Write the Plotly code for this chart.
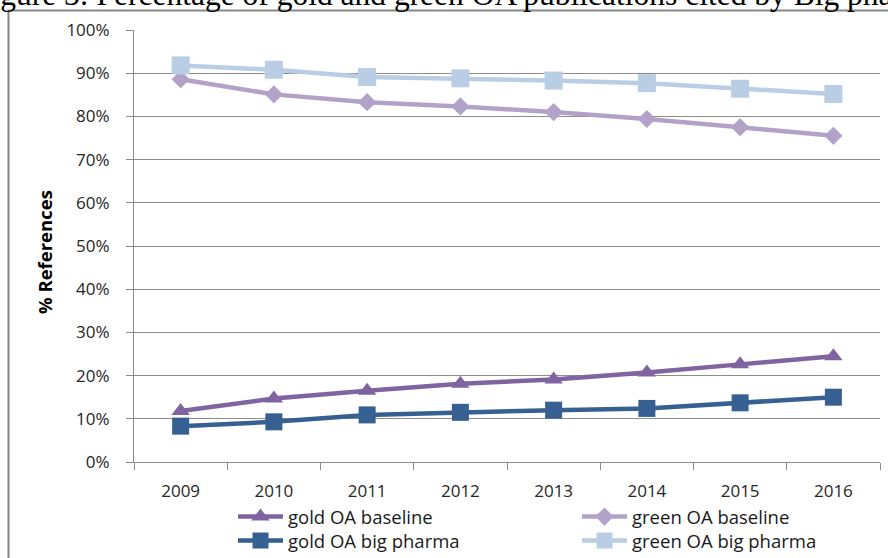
import plotly.graph_objects as go

# Citation shares by year (fraction of references)
years = ["2009", "2010", "2011", "2012", "2013", "2014", "2015", "2016"]
gold_oa_baseline = [0.118, 0.147, 0.165, 0.181, 0.191, 0.207, 0.226, 0.245]
green_oa_baseline = [0.886, 0.851, 0.833, 0.823, 0.810, 0.794, 0.775, 0.755]
gold_oa_big_pharma = [0.083, 0.093, 0.109, 0.115, 0.120, 0.124, 0.137, 0.150]
green_oa_big_pharma = [0.918, 0.908, 0.891, 0.888, 0.883, 0.877, 0.864, 0.852]
y_ticks = [0, 0.1, 0.2, 0.3, 0.4, 0.5, 0.6, 0.7, 0.8, 0.9, 1.0]
y_tick_labels = ["0%", "10%", "20%", "30%", "40%", "50%", "60%", "70%", "80%", "90%", "100%"]

W, H = 888, 558
L, R, T, B = 134, 8, 30, 96
PW, PH = W - L - R, H - T - B


def px_x(px):
    return (px - L) / PW


def px_y(py):
    return (H - B - py) / PH


# name, values, colour, marker symbol, marker size, legend slot
series = [
    ("gold OA baseline", gold_oa_baseline, "#8064A2", "triangle-up", 16, "legend"),
    ("green OA baseline", green_oa_baseline, "#B3A2C7", "diamond", 14, "legend2"),
    ("gold OA big pharma", gold_oa_big_pharma, "#376092", "square", 17, "legend3"),
    ("green OA big pharma", green_oa_big_pharma, "#B9CDE5", "square", 18, "legend4"),
]

fig = go.Figure()
for name, vals, color, symbol, size, leg in series:
    fig.add_trace(go.Scatter(
        x=years, y=vals, name=name, mode="lines+markers",
        line=dict(color=color, width=4.5),
        marker=dict(symbol=symbol, size=size, color=color, line=dict(width=0)),
        cliponaxis=False, legend=leg,
    ))

font = "Open Sans, Liberation Sans, sans-serif"
grid = "#8c8c8c"
text_color = "#262626"

legend_style = dict(
    orientation="v", xanchor="left", yanchor="top", itemwidth=45,
    font=dict(family=font, size=18.5, color="#1a1a1a"),
    bgcolor="rgba(0,0,0,0)", tracegroupgap=0,
)
col_x = [233, 577]
row_y = [498, 522]

fig.update_layout(
    width=W, height=H,
    margin=dict(l=L, r=R, t=T, b=B, pad=0, autoexpand=False),
    paper_bgcolor="white", plot_bgcolor="white",
    font=dict(family=font, size=17, color=text_color),
    showlegend=True,
    legend=dict(x=px_x(col_x[0]), y=px_y(row_y[0]), **legend_style),
    legend2=dict(x=px_x(col_x[1]), y=px_y(row_y[0]), **legend_style),
    legend3=dict(x=px_x(col_x[0]), y=px_y(row_y[1]), **legend_style),
    legend4=dict(x=px_x(col_x[1]), y=px_y(row_y[1]), **legend_style),
    xaxis=dict(
        type="category", range=[-0.5, 7.5], tickson="boundaries",
        ticks="outside", ticklen=7, tickwidth=1, tickcolor=grid,
        showline=True, linecolor=grid, linewidth=1,
        showgrid=False, zeroline=False, ticklabelstandoff=14,
        tickfont=dict(family=font, size=17, color=text_color),
    ),
    yaxis=dict(
        range=[0, 1], tickvals=y_ticks, ticktext=y_tick_labels,
        ticks="outside", ticklen=7, tickwidth=1, tickcolor=grid,
        showline=True, linecolor=grid, linewidth=1,
        showgrid=True, gridcolor=grid, gridwidth=1, zeroline=False,
        ticklabelstandoff=13,
        tickfont=dict(family=font, size=17, color=text_color),
    ),
    shapes=[dict(
        type="rect", xref="paper", yref="paper", layer="below",
        x0=px_x(8.5), x1=px_x(900), y0=px_y(575), y1=px_y(10.5),
        line=dict(color="#878787", width=2), fillcolor="rgba(0,0,0,0)",
    )],
    annotations=[
        dict(
            text="% References", textangle=-90, showarrow=False,
            xref="paper", yref="paper", x=px_x(45), y=px_y(252),
            xanchor="center", yanchor="middle",
            font=dict(family=font, size=18.5, color="black", weight="bold"),
        ),
        dict(
            text="Figure 3: Percentage of gold and green OA publications cited by Big pharma",
            showarrow=False, xref="paper", yref="paper",
            x=px_x(-28), y=px_y(14), xanchor="left", yanchor="bottom",
            font=dict(family="Liberation Serif, Times New Roman, serif", size=31.5, color="black"),
        ),
    ],
)

fig.write_html("out.html")
